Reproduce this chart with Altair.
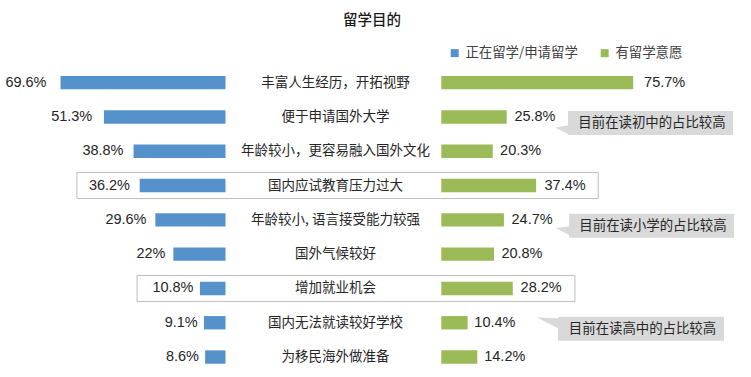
import altair as alt
import pandas as pd

# ---------------- data ----------------
title_text = "留学目的"
categories = ["丰富人生经历，开拓视野", "便于申请国外大学", "年龄较小，更容易融入国外文化",
              "国内应试教育压力过大", "年龄较小, 语言接受能力较强", "国外气候较好",
              "增加就业机会", "国内无法就读较好学校", "为移民海外做准备"]
series_names = ["正在留学/申请留学", "有留学意愿"]
current_vals = [69.6, 51.3, 38.8, 36.2, 29.6, 22, 10.8, 9.1, 8.6]
intent_vals = [75.7, 25.8, 20.3, 37.4, 24.7, 20.8, 28.2, 10.4, 14.2]
highlight_rows = ["国内应试教育压力过大", "增加就业机会"]
callout_texts = ["目前在读初中的占比较高", "目前在读小学的占比较高", "目前在读高中的占比较高"]
callout_rows = ["便于申请国外大学", "年龄较小, 语言接受能力较强", "国内无法就读较好学校"]

# ---------------- tables ----------------
long_rows = []
for c, a, b in zip(categories, current_vals, intent_vals):
    long_rows.append({"cat": c, "series": series_names[0], "value": a, "label": f"{a:g}%"})
    long_rows.append({"cat": c, "series": series_names[1], "value": b, "label": f"{b:g}%"})
df_long = pd.DataFrame(long_rows)
df_wide = pd.DataFrame({"cat": categories, "cur": current_vals, "intent": intent_vals})
df_call = pd.DataFrame({"cat": callout_rows, "text": callout_texts})

# ---------------- styles / layout ----------------
BLUE = "#5592CB"
GREEN = "#9BBB59"
CJK = "Noto Sans CJK SC"
NUM = "Liberation Sans"
TXT = "#262626"

Y_BAR = alt.Scale(domain=categories, range=[65.5, 374.2], paddingInner=0.61, paddingOuter=0.305)
Y_BOX = alt.Scale(domain=categories, range=[65.5, 374.2], paddingInner=0.242, paddingOuter=0.121)
Y_CALL = alt.Scale(domain=categories, range=[65.5, 374.2], paddingInner=0.30, paddingOuter=0.15)

XL_BAR = alt.Scale(domain=[0, 100], range=[225.5, -11.5], nice=False)
XR_BAR = alt.Scale(domain=[0, 100], range=[441.3, 694.8], nice=False)
XL_LAB = alt.Scale(domain=[0, 100], range=[220.5, -29.5], nice=False)
XR_LAB = alt.Scale(domain=[0, 100], range=[447.3, 707.3], nice=False)
CANVAS = alt.Scale(domain=[0, 751], range=[0, 751], nice=False, zero=False)

legend = alt.Legend(orient="none", legendX=448, legendY=46, direction="horizontal", title=None,
                    symbolType="square", symbolSize=64, symbolStrokeWidth=0,
                    labelFont=CJK, labelFontSize=13.4, labelColor="#404040",
                    labelOffset=4, columnPadding=20, padding=0)
color = alt.Color("series:N", scale=alt.Scale(domain=series_names, range=[BLUE, GREEN]), legend=legend)

base = alt.Chart(df_long)
ycat = alt.Y("cat:N", scale=Y_BAR, axis=None)

left_bars = base.transform_filter(alt.datum.series == series_names[0]).mark_bar().encode(
    x=alt.X("value:Q", scale=XL_BAR, axis=None), y=ycat, color=color)
right_bars = base.transform_filter(alt.datum.series == series_names[1]).mark_bar().encode(
    x=alt.X("value:Q", scale=XR_BAR, axis=None), y=ycat, color=color)

left_labels = base.transform_filter(alt.datum.series == series_names[0]).mark_text(
    align="right", baseline="middle", font=NUM, fontSize=14.5, color=TXT).encode(
    x=alt.X("value:Q", scale=XL_LAB, axis=None), y=ycat, text="label:N")
right_labels = base.transform_filter(alt.datum.series == series_names[1]).mark_text(
    align="left", baseline="middle", font=NUM, fontSize=14.5, color=TXT).encode(
    x=alt.X("value:Q", scale=XR_LAB, axis=None), y=ycat, text="label:N")

center_labels = alt.Chart(df_wide).mark_text(
    align="center", baseline="middle", font=CJK, fontSize=13.5, color=TXT).encode(
    x=alt.value(335.5), y=ycat, text="cat:N")

boxes = alt.Chart(df_wide).transform_filter(
    alt.FieldOneOfPredicate(field="cat", oneOf=highlight_rows)
).transform_calculate(
    xl="225.5 - 2.37 * (datum.cur + 26.5)",
    xr="441.3 + 2.535 * (datum.intent + 24.5)",
).mark_rect(fill=None, stroke="#BDBDBD", strokeWidth=1).encode(
    x=alt.X("xl:Q", scale=CANVAS, axis=None), x2="xr:Q",
    y=alt.Y("cat:N", scale=Y_BOX, axis=None))

title = alt.Chart(pd.DataFrame({"t": [title_text]})).mark_text(
    font=CJK, fontSize=14.5, fontWeight=500, color="#1A1A1A", baseline="middle").encode(
    x=alt.value(372), y=alt.value(21), text="t:N")

# callout annotations (layout only)
call_layout = [
    # (x0, x1, wedge center x, wedge center y, wedge path, wedge size)
    (568, 733, 562, 130, "M -0.93 -0.33 L 1.1 -0.67 L 1.1 0.67 Z", 225),
    (569, 734, 563, 231, "M -1 -0.43 L 1.1 -0.71 L 1.1 0.71 Z", 196),
    (558, 724, 548, 323, "M -1.03 -0.52 L 1.05 -0.41 L 1.05 0.55 Z", 484),
]
CALL_FILL = "#D9D9D9"
callouts = []
for i, (x0, x1, wx, wy, path, size) in enumerate(call_layout):
    one = alt.Chart(df_call.iloc[[i]])
    callouts.append(one.mark_rect(fill=CALL_FILL, yOffset=6).encode(
        x=alt.value(x0), x2=alt.value(x1), y=alt.Y("cat:N", scale=Y_CALL, axis=None)))
    callouts.append(one.mark_point(shape=path, size=size, filled=True, fill=CALL_FILL,
                                   strokeWidth=0, opacity=1).encode(
        x=alt.value(wx), y=alt.value(wy)))
    callouts.append(one.mark_text(font=CJK, fontSize=13.4, color=TXT, baseline="middle",
                                  align="center", yOffset=6).encode(
        x=alt.value((x0 + x1) / 2 + 1.5), y=alt.Y("cat:N", scale=Y_BAR, axis=None), text="text:N"))

chart = alt.layer(
    boxes, left_bars, right_bars, left_labels, right_labels, center_labels, title, *callouts
).resolve_scale(x="independent", y="independent").properties(
    width=751, height=377, padding=0, autosize="none", background="white"
).configure_view(stroke=None)

chart.save("out.html", embed_options={"renderer": "svg", "actions": False})
